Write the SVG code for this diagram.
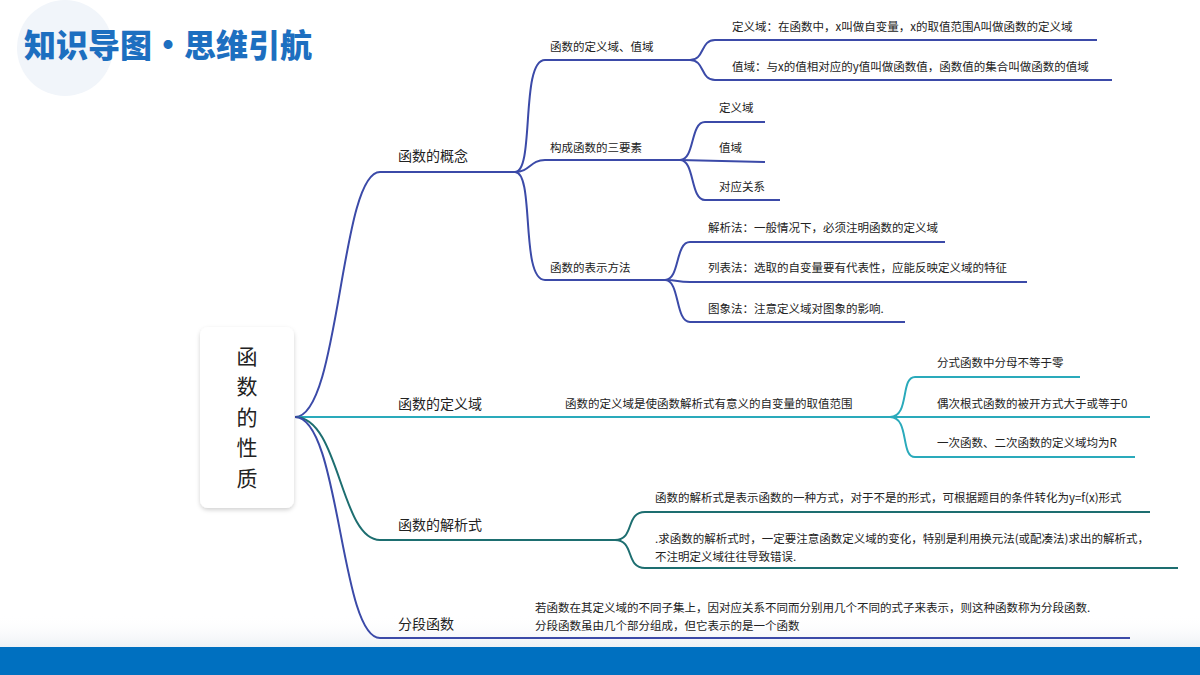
<svg xmlns="http://www.w3.org/2000/svg" width="1200" height="675" viewBox="0 0 1200 675">
<defs>
<style>
text{font-family:"Noto Sans CJK SC","Liberation Sans",sans-serif;fill:#222}
.l1{font-size:14px}
.l2{font-size:11.5px}
.b{fill:none;stroke:#3b4aa8;stroke-width:2}
.t{fill:none;stroke:#2aaabb;stroke-width:2}
.d{fill:none;stroke:#1d6e70;stroke-width:2}
</style>
<filter id="sh" x="-20%" y="-20%" width="140%" height="140%"><feDropShadow dx="0" dy="2" stdDeviation="2" flood-color="#000" flood-opacity="0.18"/></filter>
<linearGradient id="fade" x1="0" y1="0" x2="0" y2="1"><stop offset="0" stop-color="#fff" stop-opacity="0"/><stop offset="1" stop-color="#eef1f5"/></linearGradient>
</defs>
<rect width="1200" height="675" fill="#fff"/>
<circle cx="65" cy="48" r="48" fill="#f1f5fa"/>
<text x="24" y="57" style="font-size:32px;font-weight:900;fill:#1d6fc0">知识导图•思维引航</text>
<rect x="0" y="615" width="1200" height="32" fill="url(#fade)"/>
<rect x="0" y="647" width="1200" height="28" fill="#0070c0"/>
<g id="connectors">
<path class="b" d="M295,417 C340,417 340,172 380,172 L515,172"/>
<path class="t" d="M295,417 L890,417"/>
<path class="d" d="M295,417 C340,417 340,540 380,540 L615,540"/>
<path class="b" d="M295,417 C340,417 340,638 380,638 L1130,638"/>
<path class="b" d="M515,172 C535,172 520,60 545,60 L690,60"/>
<path class="b" d="M515,172 C530,172 530,160 545,160 L680,160"/>
<path class="b" d="M515,172 C535,172 520,280 545,280 L665,280"/>
<path class="b" d="M690,60 C705,60 700,40 715,40 L1097,40"/>
<path class="b" d="M690,60 C705,60 700,80 715,80 L1112,80"/>
<path class="b" d="M680,160 C695,160 690,122 705,122 L765,122"/>
<path class="b" d="M680,160 L765,162"/>
<path class="b" d="M680,160 C695,160 690,200 705,200 L780,200"/>
<path class="b" d="M665,280 C680,280 675,242 690,242 L945,242"/>
<path class="b" d="M665,280 C680,280 675,282 690,282 L1027,282"/>
<path class="b" d="M665,280 C680,280 675,322 690,322 L905,322"/>
<path class="t" d="M890,417 C910,417 900,377 915,377 L1080,377"/>
<path class="t" d="M890,417 L1150,417"/>
<path class="t" d="M890,417 C910,417 900,457 915,457 L1135,457"/>
<path class="d" d="M615,540 C635,540 625,512 645,512 L1150,512"/>
<path class="d" d="M615,540 C635,540 625,568 645,568 L1178,568"/>
</g>
<g id="root"><rect x="200" y="327" width="94" height="181" rx="8" fill="#fff" filter="url(#sh)"/>
<text x="247" y="364" text-anchor="middle" style="font-size:21px">函</text>
<text x="247" y="394" text-anchor="middle" style="font-size:21px">数</text>
<text x="247" y="425" text-anchor="middle" style="font-size:21px">的</text>
<text x="247" y="455" text-anchor="middle" style="font-size:21px">性</text>
<text x="247" y="486" text-anchor="middle" style="font-size:21px">质</text></g>
<g id="n1"><text class="l1" x="398" y="161">函数的概念</text></g>
<g id="n2"><text class="l1" x="398" y="409">函数的定义域</text></g>
<g id="n3"><text class="l1" x="398" y="530">函数的解析式</text></g>
<g id="n4"><text class="l1" x="398" y="629">分段函数</text></g>
<g id="n11"><text class="l2" x="550" y="51">函数的定义域、值域</text></g>
<g id="n12"><text class="l2" x="550" y="152">构成函数的三要素</text></g>
<g id="n13"><text class="l2" x="550" y="272">函数的表示方法</text></g>
<g id="n111"><text class="l2" x="732" y="31">定义域：在函数中，x叫做自变量，x的取值范围A叫做函数的定义域</text></g>
<g id="n112"><text class="l2" x="732" y="71">值域：与x的值相对应的y值叫做函数值，函数值的集合叫做函数的值域</text></g>
<g id="n121"><text class="l2" x="719" y="112">定义域</text></g>
<g id="n122"><text class="l2" x="719" y="152">值域</text></g>
<g id="n123"><text class="l2" x="719" y="191">对应关系</text></g>
<g id="n131"><text class="l2" x="708" y="232">解析法：一般情况下，必须注明函数的定义域</text></g>
<g id="n132"><text class="l2" x="708" y="272">列表法：选取的自变量要有代表性，应能反映定义域的特征</text></g>
<g id="n133"><text class="l2" x="708" y="313">图象法：注意定义域对图象的影响.</text></g>
<g id="n21"><text class="l2" x="565" y="408">函数的定义域是使函数解析式有意义的自变量的取值范围</text></g>
<g id="n211"><text class="l2" x="937" y="367">分式函数中分母不等于零</text></g>
<g id="n212"><text class="l2" x="937" y="408">偶次根式函数的被开方式大于或等于0</text></g>
<g id="n213"><text class="l2" x="937" y="447">一次函数、二次函数的定义域均为R</text></g>
<g id="n31"><text class="l2" x="655" y="502">函数的解析式是表示函数的一种方式，对于不是的形式，可根据题目的条件转化为y=f(x)形式</text></g>
<g id="n32"><text class="l2" x="655" y="543">.求函数的解析式时，一定要注意函数定义域的变化，特别是利用换元法(或配凑法)求出的解析式，</text><text class="l2" x="655" y="561">不注明定义域往往导致错误.</text></g>
<g id="n41"><text class="l2" x="535" y="612">若函数在其定义域的不同子集上，因对应关系不同而分别用几个不同的式子来表示，则这种函数称为分段函数.</text><text class="l2" x="535" y="630">分段函数虽由几个部分组成，但它表示的是一个函数</text></g>
</svg>
